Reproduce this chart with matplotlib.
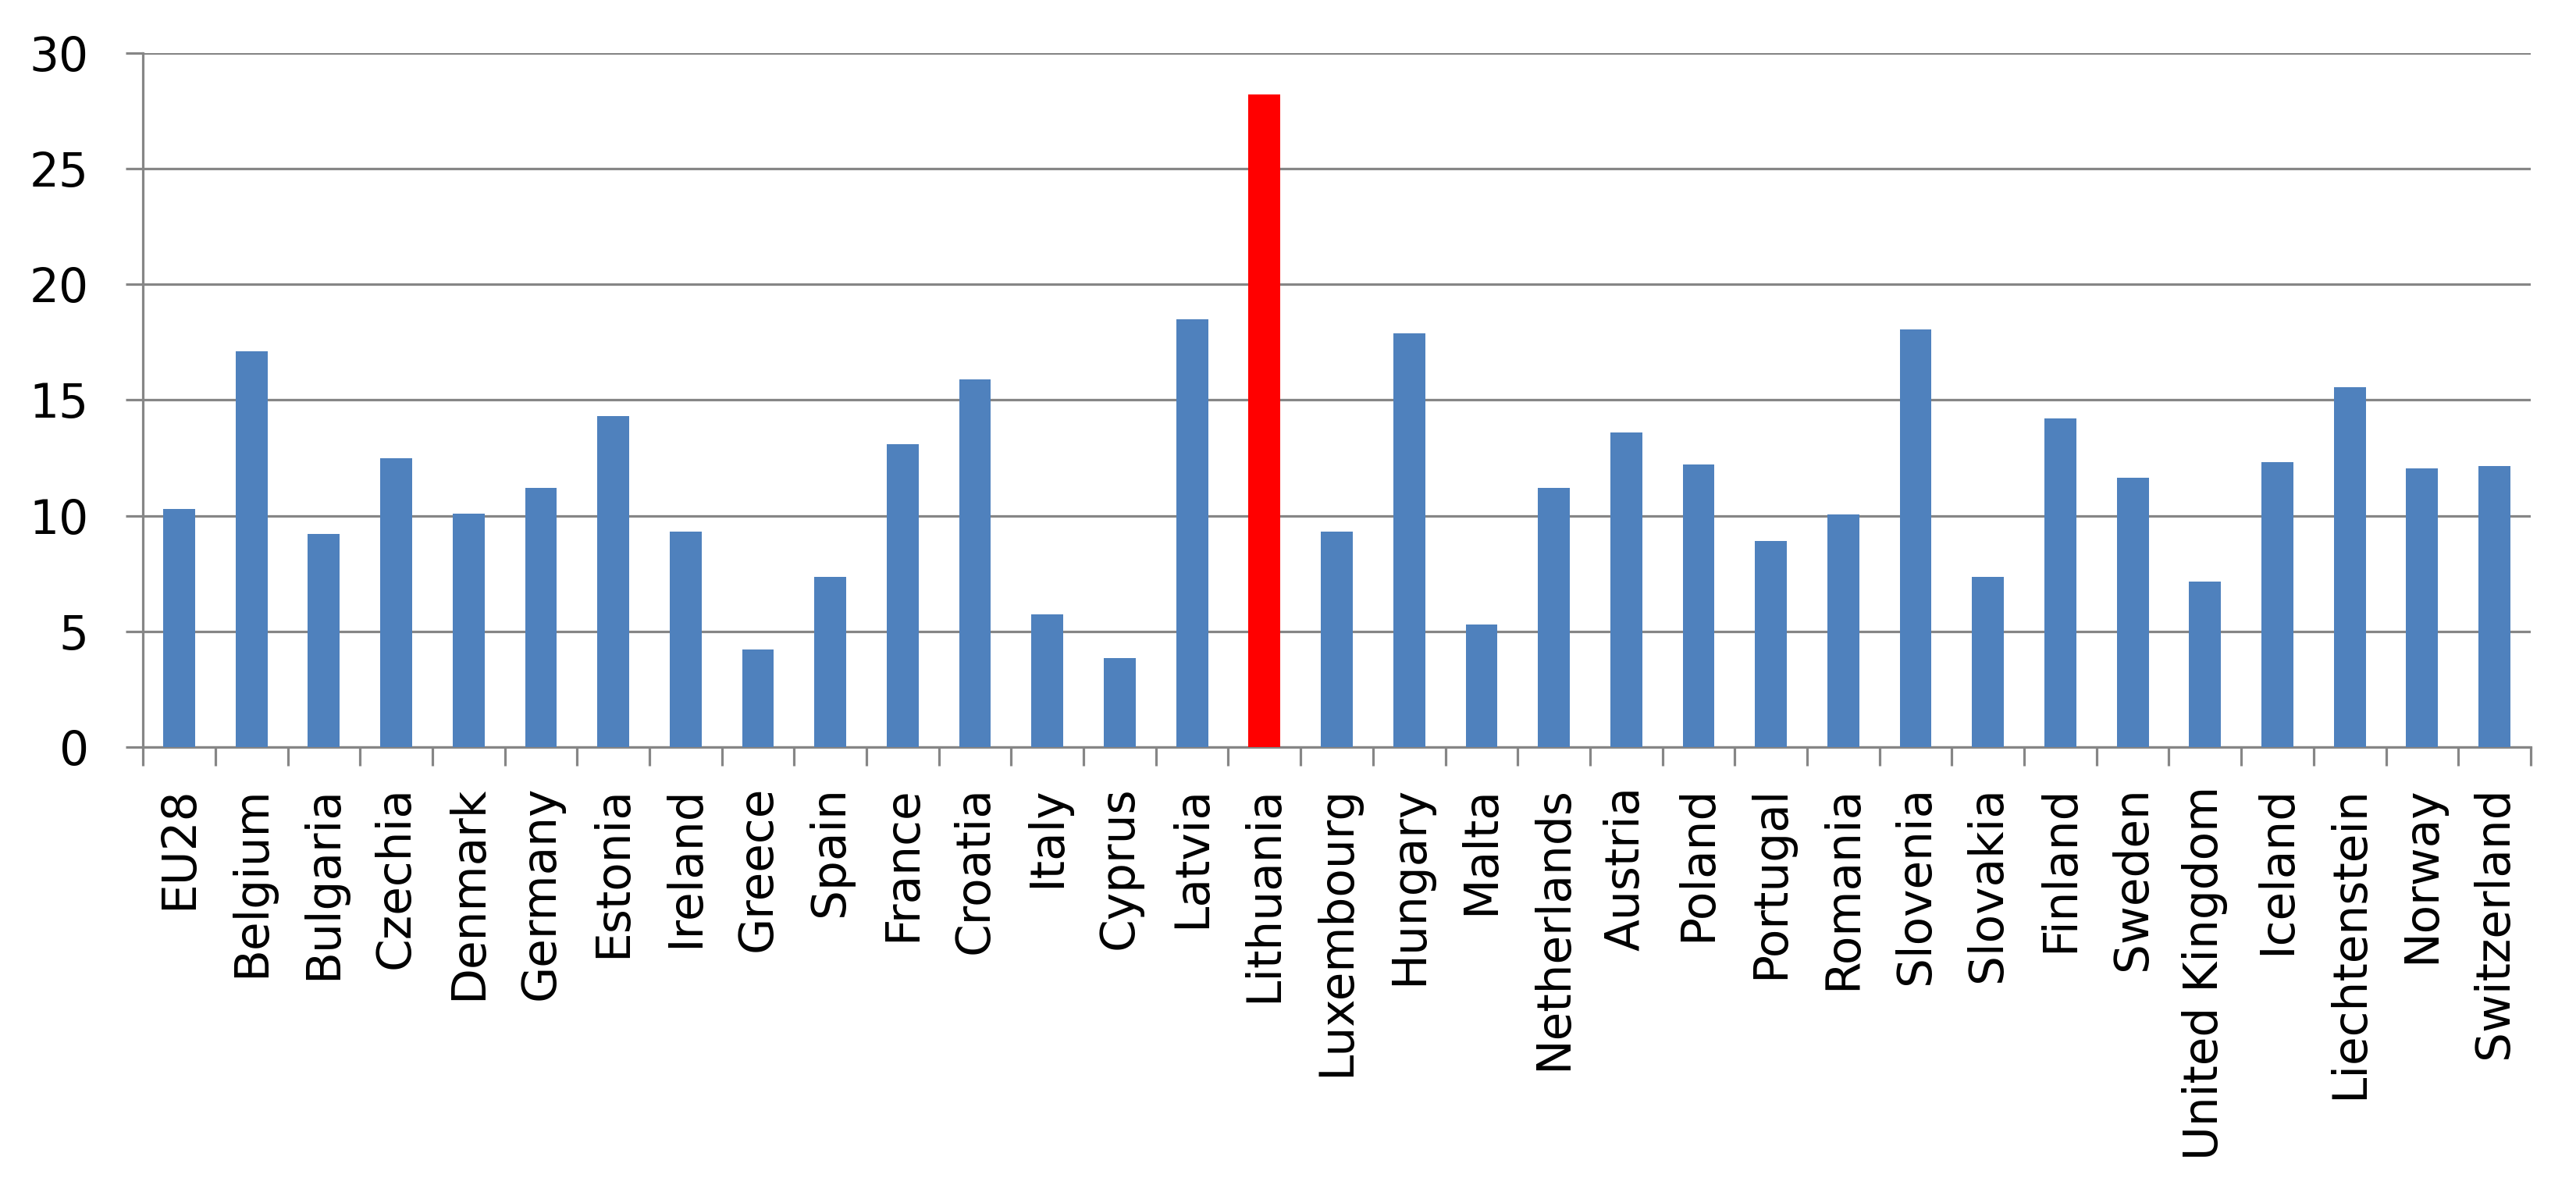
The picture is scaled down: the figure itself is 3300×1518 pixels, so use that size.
import matplotlib
matplotlib.use("Agg")
import matplotlib.pyplot as plt
from matplotlib.ticker import FixedLocator

countries = ["EU28", "Belgium", "Bulgaria", "Czechia", "Denmark", "Germany",
             "Estonia", "Ireland", "Greece", "Spain", "France", "Croatia",
             "Italy", "Cyprus", "Latvia", "Lithuania", "Luxembourg", "Hungary",
             "Malta", "Netherlands", "Austria", "Poland", "Portugal", "Romania",
             "Slovenia", "Slovakia", "Finland", "Sweden", "United Kingdom",
             "Iceland", "Liechtenstein", "Norway", "Switzerland"]
values = [10.3, 17.1, 9.2, 12.5, 10.1, 11.2,
          14.3, 9.3, 4.2, 7.35, 13.1, 15.9,
          5.75, 3.85, 18.5, 28.2, 9.3, 17.9,
          5.3, 11.2, 13.6, 12.2, 8.9, 10.05,
          18.05, 7.35, 14.2, 11.65, 7.15,
          12.3, 15.55, 12.05, 12.15]
highlight = "Lithuania"

grey = "#868686"
blue = "#4F81BD"
red = "#FF0000"

fig = plt.figure(figsize=(33, 15.18), dpi=100)
ax = fig.add_axes([0.0555, 0.3696, 0.9269, 0.5856])

x = list(range(len(countries)))
colors = [red if c == highlight else blue for c in countries]
ax.bar(x, values, width=0.44, color=colors, zorder=3)

ax.set_xlim(-0.5, len(countries) - 0.5)
ax.set_ylim(0, 30)
ax.set_yticks(range(0, 31, 5))
ax.yaxis.grid(True, color=grey, linewidth=2.3, zorder=0)

ax.set_xticks(x)
ax.set_xticklabels(countries, rotation=90, fontsize=43)
ax.xaxis.set_minor_locator(FixedLocator([i - 0.5 for i in range(len(countries) + 1)]))
ax.tick_params(axis="x", which="major", length=0, pad=36)
ax.tick_params(axis="x", which="minor", length=17, width=2.3, color=grey)
ax.tick_params(axis="y", which="major", length=16, width=2.3, color=grey,
               labelsize=43, pad=34)

for side in ["top", "right"]:
    ax.spines[side].set_visible(False)
for side in ["left", "bottom"]:
    ax.spines[side].set_color(grey)
    ax.spines[side].set_linewidth(2.3)

fig.savefig("out.png", dpi=100)
